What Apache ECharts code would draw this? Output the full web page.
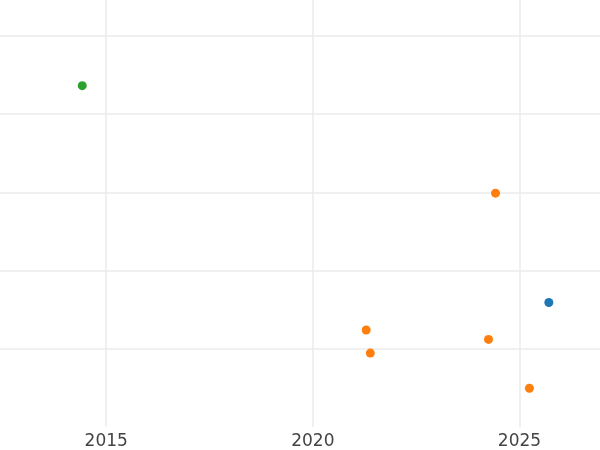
<!DOCTYPE html>
<html>
<head>
<meta charset="utf-8">
<script src="https://cdn.jsdelivr.net/npm/echarts@6/dist/echarts.min.js"></script>
<style>html,body{margin:0;padding:0;background:#fff}#c{width:600px;height:450px}</style>
</head>
<body>
<div id="c"></div>
<script>
const xTicks = [2015, 2020, 2025];
const yTicks = [20, 40, 60, 80, 100];
const xRange = [2012.43, 2026.948];
const yRange = [0, 109.2];
const greenX = [2014.42];
const greenY = [87.3];
const orangeX = [2024.42, 2021.29, 2021.39, 2024.25, 2025.24];
const orangeY = [59.8, 24.8, 18.9, 22.4, 9.9];
const blueX = [2025.71];
const blueY = [31.85];

const zip = (xs, ys) => xs.map((x, i) => [x, ys[i]]);
const chart = echarts.init(document.getElementById('c'), null, {renderer: 'canvas'});
const grid = '#ebebeb';
chart.setOption({
  animation: false,
  backgroundColor: '#fff',
  grid: {left: 0, right: 0, top: 0, bottom: 22.75, containLabel: false},
  xAxis: {
    type: 'value', min: xRange[0], max: xRange[1],
    axisLine: {show: false},
    axisTick: {show: false, customValues: xTicks},
    axisLabel: {color: '#444', fontFamily: 'DejaVu Sans', fontSize: 17, margin: 6, customValues: xTicks, formatter: v => String(v)},
    splitLine: {show: true, lineStyle: {color: grid, width: 1.5}}
  },
  yAxis: {
    type: 'value', min: yRange[0], max: yRange[1],
    axisLine: {show: false},
    axisTick: {show: false, customValues: yTicks},
    axisLabel: {show: false, customValues: yTicks},
    splitLine: {show: true, lineStyle: {color: grid, width: 1.5}}
  },
  series: [
    {name: 'green', type: 'scatter', data: zip(greenX, greenY), symbolSize: 9, itemStyle: {color: '#2ca02c', opacity: 1}},
    {name: 'orange', type: 'scatter', data: zip(orangeX, orangeY), symbolSize: 9, itemStyle: {color: '#ff7f0e', opacity: 1}},
    {name: 'blue', type: 'scatter', data: zip(blueX, blueY), symbolSize: 9, itemStyle: {color: '#1f77b4', opacity: 1}}
  ]
});
</script>
</body>
</html>
